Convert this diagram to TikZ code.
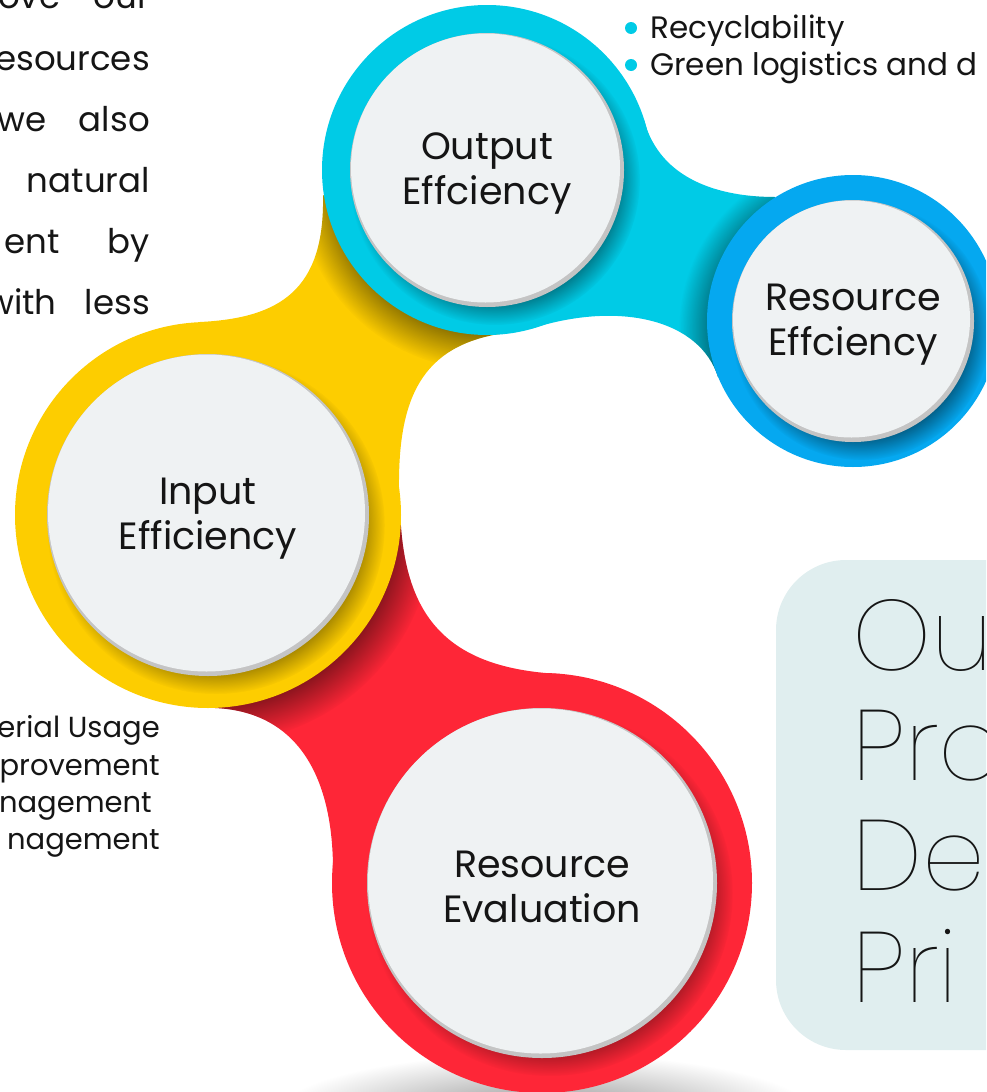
\documentclass[tikz,border=0pt]{standalone}
\usepackage{fontspec}
\setmainfont{Poppins}
\newfontfamily\thinfont{Poppins Thin}
\usetikzlibrary{fadings}

\definecolor{ringcyan}{HTML}{00CBE6}
\definecolor{ringblue}{HTML}{05A8F0}
\definecolor{ringyellow}{HTML}{FDCD00}
\definecolor{ringred}{HTML}{FE2637}
\definecolor{disc}{HTML}{EFF2F3}
\definecolor{discrim}{HTML}{C4C4C4}
\definecolor{boxbg}{HTML}{E0EEEF}
\definecolor{ink}{HTML}{151515}

\begin{document}
\begin{tikzpicture}[x=1pt, y=-1pt,
    disctext/.style={align=center, font=\fontsize{38}{45}\selectfont, text=ink, inner sep=0pt, yshift=-4pt},
    paratext/.style={font=\fontsize{34}{34}\selectfont, text=ink, inner sep=0pt},
    listtext/.style={anchor=base west, font=\fontsize{31}{31}\selectfont, text=ink, inner sep=0pt},
    bigword/.style={anchor=base west, font=\thinfont\fontsize{100}{100}\selectfont, text=ink, inner sep=0pt},
    softshadow/.style={fill=black, path fading=circle with fuzzy edge 20 percent},
    dot/.style={circle, fill=ringcyan, minimum size=12pt, inner sep=0pt},
  ]

    \useasboundingbox (0,0) rectangle (986,1092);
    \clip (0,0) rectangle (986,1092);

    % 底部阴影
    \shade[inner color=black!45, outer color=white] (545,1115) ellipse (270 and 62);

    % 圆心
    \coordinate (evac) at (542,883);
    \coordinate (inc) at (208,515);
    \coordinate (outc) at (487,170);
    \coordinate (resc) at (853,321);

    % 红色部分
    \begin{scope}
      \clip (400,505) .. controls (402,610) and (440,668) .. (560,674) -- (333,870)
            .. controls (333,780) and (300,712) .. (215,708) -- cycle;
      \fill[ringred] (180,480) rectangle (600,900);
      \path[softshadow, opacity=.5] ([shift={(8,10)}]inc) circle (218);
    \end{scope}
    \fill[ringred] (evac) circle (210);

    % 黄色部分
    \begin{scope}
      \clip (323,195) .. controls (325,290) and (280,318) .. (200,322) -- (399,490)
            .. controls (398,400) and (420,345) .. (505,333) -- cycle;
      \fill[ringyellow] (150,150) rectangle (550,550);
      \path[softshadow, opacity=.45] ([shift={(0,10)}]outc) circle (190);
    \end{scope}
    \fill[ringyellow] (inc) circle (193);

    % 青色部分
    \begin{scope}
      \clip (644,120) .. controls (660,180) and (720,197) .. (775,197) -- (718,377)
            .. controls (700,320) and (620,300) .. (530,329) -- cycle;
      \fill[ringcyan] (500,100) rectangle (800,400);
      \path[softshadow, opacity=.45] ([shift={(-2,8)}]resc) circle (172);
    \end{scope}
    \fill[ringcyan] (outc) circle (165);
    \fill[ringblue] (resc) circle (146);

    % 白色圆盘
    \foreach \ctr/\rin/\rout in {evac/175/210, inc/161/193, outc/137/165, resc/121/146} {
      \begin{scope}
        \clip (\ctr) circle (\rout);
        \path[softshadow, opacity=.5] ([shift={(8,10)}]\ctr) circle (\rin+8);
      \end{scope}
      \fill[discrim] (\ctr) circle (\rin);
      \fill[disc] ([shift={(-1.5,-2)}]\ctr) circle (\rin-2.5);
    }

    % 圆内文字
    \node[disctext] (evalabel) at (evac) {Resource\\Evaluation};
    \node[disctext] (inlabel) at (inc) {Input\\Efficiency};
    \node[disctext] (outlabel) at (outc) {Output\\Effciency};
    \node[disctext] (reslabel) at (resc) {Resource\\Effciency};

    % 右下方框
    \fill[boxbg, rounded corners=70] (776,560) rectangle (1060,1050);
    \node[bigword] (titleA) at (852,670) {Ou};
    \node[bigword] (titleB) at (852,780) {Pro};
    \node[bigword] (titleC) at (852,890) {De};
    \node[bigword] (titleD) at (852,1002) {Pri};

    % 左上段落
    \node[paratext, anchor=base west] (lineAa) at (-2,9) {ove};
    \node[paratext, anchor=base east] (lineAb) at (150,9) {our};
    \node[paratext, anchor=base east] (lineB) at (150,70) {esources};
    \node[paratext, anchor=base west] (lineCa) at (-3,131) {we};
    \node[paratext, anchor=base east] (lineCb) at (150,131) {also};
    \node[paratext, anchor=base east] (lineD) at (150,192) {natural};
    \node[paratext, anchor=base west] (lineEa) at (4,253) {ent};
    \node[paratext, anchor=base east] (lineEb) at (150,253) {by};
    \node[paratext, anchor=base west] (lineFa) at (-14,314) {with};
    \node[paratext, anchor=base east] (lineFb) at (150,314) {less};

    % 右上列表
    \node[dot] (dotA) at (631,28) {};
    \node[dot] (dotB) at (631,65) {};
    \node[listtext] (recy) at (650,38) {Recyclability};
    \node[listtext] (green) at (650,75) {Green logistics and d};

    % 左下列表
    \node[listtext, font=\fontsize{29}{29}\selectfont, anchor=base east] (itemA) at (160,737) {erial Usage};
    \node[listtext, font=\fontsize{29}{29}\selectfont, anchor=base east] (itemB) at (160,775) {provement};
    \node[listtext, font=\fontsize{29}{29}\selectfont, anchor=base east] (itemC) at (152,812) {nagement};
    \node[listtext, font=\fontsize{29}{29}\selectfont, anchor=base east] (itemD) at (160,849) {nagement};

  \end{tikzpicture}
\end{document}
